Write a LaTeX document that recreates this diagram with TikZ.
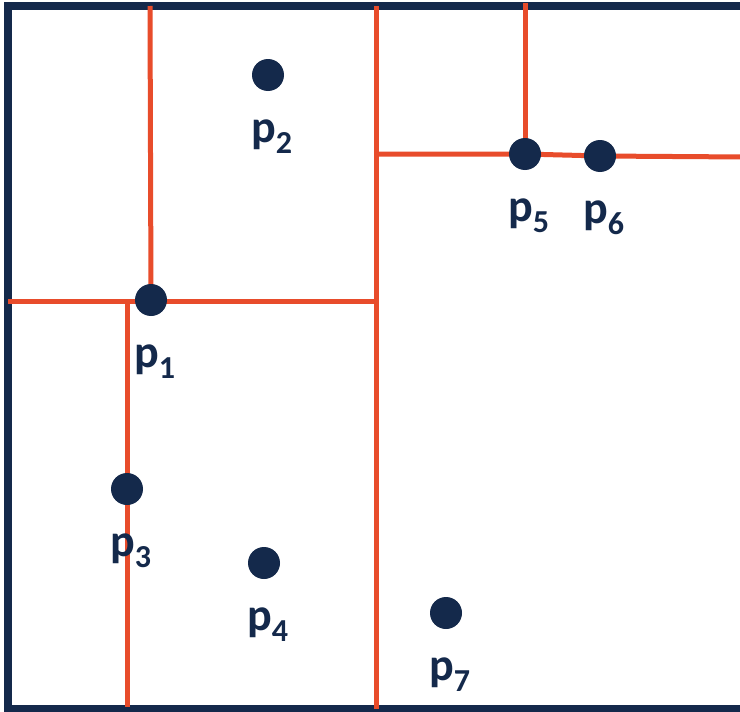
\documentclass[tikz,border=0pt]{standalone}
\usepackage{fontspec}
\setmainfont{Carlito}
\definecolor{navy}{HTML}{14294B}
\definecolor{cut}{HTML}{E84C2B}
\tikzset{
  frameline/.style={draw=navy, line width=8pt},
  cutline/.style={draw=cut, line width=5pt},
  dot/.style={circle, fill=navy, minimum size=32pt, inner sep=0pt},
  lbl/.style={anchor=base west, inner sep=0pt, text=navy, font=\fontsize{46}{50}\selectfont\bfseries},
}
\newcommand{\plab}[1]{p\raisebox{-0.24em}{\fontsize{32}{35}\selectfont #1}}
\begin{document}
\begin{tikzpicture}[x=1pt,y=-1pt]
\clip (0,0) rectangle (740,712);
\fill[white] (0,0) rectangle (740,712);
% frame
\draw[frameline] (8,6) rectangle (780,709);
% dot centres
\coordinate (c1) at (151,300);
\coordinate (c2) at (268,75);
\coordinate (c3) at (127,489);
\coordinate (c4) at (264,563);
\coordinate (c5) at (525,154);
\coordinate (c6) at (600,156);
\coordinate (c7) at (446,613);
% line ends
\coordinate (t1) at (150,6);
\coordinate (l1) at (8,301);
\coordinate (m1) at (376,301);
\coordinate (t2) at (376,6);
\coordinate (b2) at (376,709);
\coordinate (m2) at (376,154);
\coordinate (r2) at (745,157);
\coordinate (t3) at (525,3);
\coordinate (h3) at (127,301);
\coordinate (b3) at (127,707);
% cut lines
\draw[cutline] (t1) -- (c1);
\draw[cutline] (l1) -- (m1);
\draw[cutline] (t2) -- (b2);
\draw[cutline] (m2) -- (c5) -- (c6) -- (r2);
\draw[cutline] (t3) -- (c5);
\draw[cutline] (h3) -- (b3);
% dots
\foreach \i in {1,...,7} {
  \node[dot] (p\i) at (c\i) {};
  \node[lbl] (lab\i) at ([shift={(-17,67)}]c\i) {\plab{\i}};
}
\end{tikzpicture}
\end{document}
